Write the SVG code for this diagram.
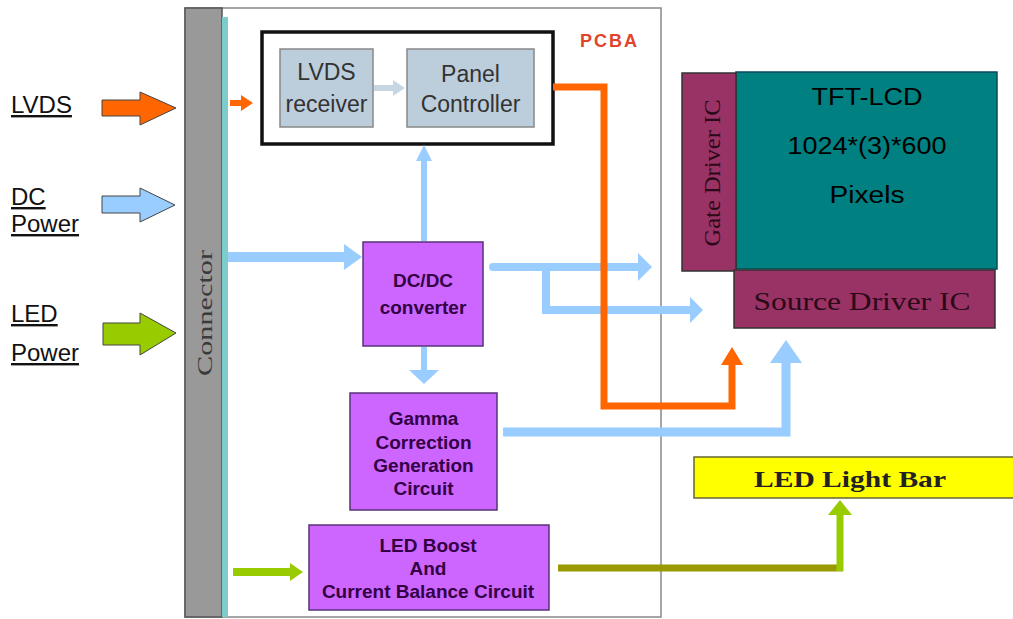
<svg xmlns="http://www.w3.org/2000/svg" width="1013" height="619" viewBox="0 0 1013 619">
<style>
.lbl{font-family:"Liberation Sans",Arial,sans-serif;font-size:24px;fill:#111;text-decoration:underline}
.gb{fill:#bccddc;stroke:#888;stroke-width:1.5}
.gt{font-family:"Liberation Sans",Arial,sans-serif;font-size:23px;fill:#333;text-anchor:middle}
.pp{fill:#cc66ff;stroke:#553377;stroke-width:1.5}
.pt{font-family:"Liberation Sans",Arial,sans-serif;font-size:19px;font-weight:bold;fill:#330044;text-anchor:middle}
.mr{fill:#993366;stroke:#333;stroke-width:1.5}
.st{font-family:"Liberation Serif","Times New Roman",serif;fill:#2a0a18;text-anchor:middle}
.tt{font-family:"Liberation Sans",Arial,sans-serif;font-size:23px;fill:#000;text-anchor:middle}
.b{fill:none;stroke:#99ccff}
.bh{fill:#99ccff}
</style>
<rect width="1013" height="619" fill="#fff"/>

<g id="inputs">
<text class="lbl" x="11" y="113">LVDS</text>
<text class="lbl" x="11" y="205">DC</text>
<text class="lbl" x="11" y="232">Power</text>
<text class="lbl" x="11" y="322">LED</text>
<text class="lbl" x="11" y="361">Power</text>
<polygon points="102,100 140,100 140,92 176,108 140,125 140,116 102,116" fill="#ff6600" stroke="#444" stroke-width="1"/>
<polygon points="102,196 140,196 140,188 175,205 140,222 140,213 102,213" fill="#99ccff" stroke="#444" stroke-width="1"/>
<polygon points="103,323 140,323 140,313 176,333 140,355 140,345 103,345" fill="#99cc00" stroke="#444" stroke-width="1"/>
</g>

<g id="pcba">
<rect x="185" y="8" width="476" height="609" fill="#fff" stroke="#888" stroke-width="1.5"/>
<text x="580" y="47" font-family="'Liberation Sans',Arial,sans-serif" font-size="18" font-weight="bold" fill="#e0442a" letter-spacing="2">PCBA</text>
</g>

<g id="connector">
<rect x="185" y="8" width="37" height="609" fill="#999" stroke="#555" stroke-width="1.5"/>
<rect x="222" y="17" width="6" height="600" fill="#7ccccc"/>
<text class="st" transform="translate(212,313) rotate(-90)" font-size="22" textLength="126" lengthAdjust="spacingAndGlyphs" style="fill:#3a3a3a">Connector</text>
</g>

<g id="lvds-block">
<rect x="262" y="32" width="291" height="112" fill="#fff" stroke="#111" stroke-width="3.5"/>
</g>
<g id="lvds-receiver">
<rect class="gb" x="280" y="49" width="93" height="78"/>
<text class="gt" x="326.5" y="80">LVDS</text>
<text class="gt" x="326.5" y="112">receiver</text>
</g>
<g id="panel-controller">
<rect class="gb" x="407" y="49" width="127" height="78"/>
<text class="gt" x="470.5" y="82">Panel</text>
<text class="gt" x="470.5" y="112">Controller</text>
</g>

<g id="dcdc">
<rect class="pp" x="363" y="242" width="120" height="104"/>
<text class="pt" x="423" y="287">DC/DC</text>
<text class="pt" x="423" y="314">converter</text>
</g>

<g id="gamma">
<rect class="pp" x="350" y="393" width="147" height="117"/>
<text class="pt" x="423.5" y="425">Gamma</text>
<text class="pt" x="423.5" y="449">Correction</text>
<text class="pt" x="423.5" y="472">Generation</text>
<text class="pt" x="423.5" y="495">Circuit</text>
</g>

<g id="led-boost">
<rect class="pp" x="309" y="525" width="240" height="85"/>
<text class="pt" x="428" y="552">LED Boost</text>
<text class="pt" x="428" y="575">And</text>
<text class="pt" x="428" y="598">Current Balance Circuit</text>
</g>

<g id="tft-lcd">
<rect x="736" y="72" width="261" height="197" fill="#008080" stroke="#0a4a5a" stroke-width="1.5"/>
<text class="tt" x="867" y="105" textLength="111" lengthAdjust="spacingAndGlyphs">TFT-LCD</text>
<text class="tt" x="867" y="154" textLength="159" lengthAdjust="spacingAndGlyphs">1024*(3)*600</text>
<text class="tt" x="867" y="203" textLength="75" lengthAdjust="spacingAndGlyphs">Pixels</text>
</g>
<g id="gate-driver">
<rect class="mr" x="682" y="73" width="54" height="198"/>
<text class="st" transform="translate(720,173) rotate(-90)" font-size="23" textLength="147" lengthAdjust="spacingAndGlyphs">Gate Driver IC</text>
</g>
<g id="source-driver">
<rect class="mr" x="734" y="270" width="261" height="58"/>
<text class="st" x="862" y="310" font-size="26" textLength="217" lengthAdjust="spacingAndGlyphs">Source Driver IC</text>
</g>

<g id="led-light-bar">
<rect x="694" y="457" width="322" height="41" fill="#ffff00" stroke="#666633" stroke-width="1.5"/>
<text class="st" x="850" y="487" font-size="24" font-weight="bold" textLength="192" lengthAdjust="spacingAndGlyphs" style="fill:#222">LED Light Bar</text>
</g>

<g id="connectors">
<polygon points="230,100 241,100 241,95 253,103 241,111 241,106 230,106" fill="#ff6600"/>
<polygon points="374,85 393,85 393,80 405,88 393,96 393,91 374,91" fill="#c8d6e4"/>
<line class="b" x1="228" y1="257" x2="346" y2="257" stroke-width="10"/>
<polygon class="bh" points="344,244 362,257 344,270"/>
<line class="b" x1="424" y1="241" x2="424" y2="158" stroke-width="6"/>
<polygon class="bh" points="416,161 424,145 432,161"/>
<line class="b" x1="424" y1="347" x2="424" y2="372" stroke-width="6"/>
<polygon class="bh" points="409,370 424,384 439,370"/>
<polyline class="b" points="493,267 640,267" stroke-width="8" stroke-linecap="round"/>
<polygon class="bh" points="638,253 652,267 638,281"/>
<polyline class="b" points="546,267 546,310 692,310" stroke-width="8"/>
<polygon class="bh" points="690,297 703,310 690,323"/>
<polyline class="b" points="503,432 786,432 786,360" stroke-width="9"/>
<polygon class="bh" points="770,363 786,340 802,363"/>
<polyline points="553,87 604,87 604,406 732,406 732,362" fill="none" stroke="#ff6600" stroke-width="7"/>
<polygon points="721,365 732,347 743,365" fill="#ff6600"/>
<line x1="233" y1="572" x2="292" y2="572" stroke="#99cc00" stroke-width="8"/>
<polygon points="290,563 303,572 290,581" fill="#99cc00"/>
<line x1="558" y1="568" x2="843" y2="568" stroke="#999900" stroke-width="7"/>
<line x1="840" y1="571" x2="840" y2="512" stroke="#99cc00" stroke-width="7"/>
<polygon points="828,515 840,500 852,515" fill="#99cc00"/>
</g>
</svg>
